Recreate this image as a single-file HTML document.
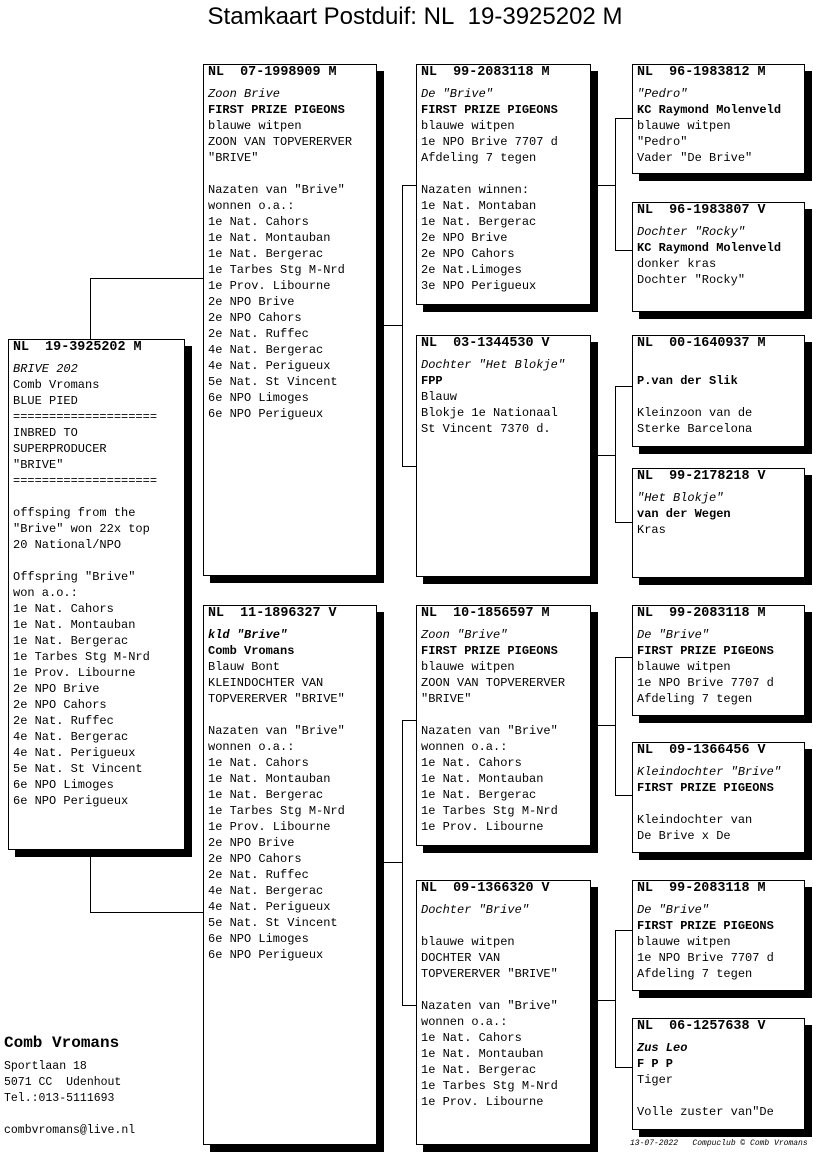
<!DOCTYPE html>
<html><head><meta charset="utf-8"><style>
body{margin:0;width:816px;height:1172px;background:#fff;position:relative;overflow:hidden;font-family:"Liberation Mono",monospace;color:#000}
.b{position:absolute;border:1px solid #000;background:#fff;box-shadow:7px 7px 0 #000;box-sizing:border-box;padding:0 0 0 4px;font-size:12px;line-height:16px;white-space:pre}
.h{font-weight:bold;font-size:13.4px;line-height:16px;margin-bottom:5px}
.i{font-style:italic}.bd{font-weight:bold}
.l{position:absolute;background:#000}
.t{position:absolute;font-family:"Liberation Sans",sans-serif;font-size:24px;left:0;width:830px;text-align:center;top:3px}
</style></head><body>
<div class="t">Stamkaart Postduif: NL&nbsp;&nbsp;19-3925202 M</div>

<!-- connectors -->
<div class="l" style="left:90px;top:278px;width:1px;height:62px"></div>
<div class="l" style="left:90px;top:278px;width:113px;height:1px"></div>
<div class="l" style="left:90px;top:850px;width:1px;height:62px"></div>
<div class="l" style="left:90px;top:912px;width:113px;height:1px"></div>

<div class="l" style="left:384px;top:325px;width:18px;height:1px"></div>
<div class="l" style="left:402px;top:185px;width:1px;height:281px"></div>
<div class="l" style="left:402px;top:185px;width:14px;height:1px"></div>
<div class="l" style="left:402px;top:466px;width:14px;height:1px"></div>

<div class="l" style="left:384px;top:862px;width:18px;height:1px"></div>
<div class="l" style="left:402px;top:720px;width:1px;height:285px"></div>
<div class="l" style="left:402px;top:720px;width:14px;height:1px"></div>
<div class="l" style="left:402px;top:1005px;width:14px;height:1px"></div>

<div class="l" style="left:598px;top:185px;width:17px;height:1px"></div>
<div class="l" style="left:615px;top:118px;width:1px;height:132px"></div>
<div class="l" style="left:615px;top:118px;width:17px;height:1px"></div>
<div class="l" style="left:615px;top:250px;width:17px;height:1px"></div>

<div class="l" style="left:598px;top:455px;width:17px;height:1px"></div>
<div class="l" style="left:615px;top:386px;width:1px;height:136px"></div>
<div class="l" style="left:615px;top:386px;width:17px;height:1px"></div>
<div class="l" style="left:615px;top:522px;width:17px;height:1px"></div>

<div class="l" style="left:598px;top:725px;width:17px;height:1px"></div>
<div class="l" style="left:615px;top:657px;width:1px;height:138px"></div>
<div class="l" style="left:615px;top:657px;width:17px;height:1px"></div>
<div class="l" style="left:615px;top:795px;width:17px;height:1px"></div>

<div class="l" style="left:598px;top:1000px;width:17px;height:1px"></div>
<div class="l" style="left:615px;top:930px;width:1px;height:137px"></div>
<div class="l" style="left:615px;top:930px;width:17px;height:1px"></div>
<div class="l" style="left:615px;top:1067px;width:17px;height:1px"></div>

<!-- root -->
<div class="b" style="left:8px;top:339px;width:177px;height:511px"><div class="h">NL  19-3925202 M</div><div class="i">BRIVE 202</div>Comb Vromans
BLUE PIED
====================
INBRED TO
SUPERPRODUCER
"BRIVE"
====================

offsping from the
"Brive" won 22x top
20 National/NPO

Offspring "Brive"
won a.o.:
1e Nat. Cahors
1e Nat. Montauban
1e Nat. Bergerac
1e Tarbes Stg M-Nrd
1e Prov. Libourne
2e NPO Brive
2e NPO Cahors
2e Nat. Ruffec
4e Nat. Bergerac
4e Nat. Perigueux
5e Nat. St Vincent
6e NPO Limoges
6e NPO Perigueux</div>

<!-- gen1 -->
<div class="b" style="left:203px;top:64px;width:174px;height:512px"><div class="h">NL  07-1998909 M</div><div class="i">Zoon Brive</div><div class="bd">FIRST PRIZE PIGEONS</div>blauwe witpen
ZOON VAN TOPVERERVER
"BRIVE"

Nazaten van "Brive"
wonnen o.a.:
1e Nat. Cahors
1e Nat. Montauban
1e Nat. Bergerac
1e Tarbes Stg M-Nrd
1e Prov. Libourne
2e NPO Brive
2e NPO Cahors
2e Nat. Ruffec
4e Nat. Bergerac
4e Nat. Perigueux
5e Nat. St Vincent
6e NPO Limoges
6e NPO Perigueux</div>

<div class="b" style="left:203px;top:605px;width:174px;height:540px"><div class="h">NL  11-1896327 V</div><div class="i bd">kld "Brive"</div><div class="bd">Comb Vromans</div>Blauw Bont
KLEINDOCHTER VAN
TOPVERERVER "BRIVE"

Nazaten van "Brive"
wonnen o.a.:
1e Nat. Cahors
1e Nat. Montauban
1e Nat. Bergerac
1e Tarbes Stg M-Nrd
1e Prov. Libourne
2e NPO Brive
2e NPO Cahors
2e Nat. Ruffec
4e Nat. Bergerac
4e Nat. Perigueux
5e Nat. St Vincent
6e NPO Limoges
6e NPO Perigueux</div>

<!-- gen2 -->
<div class="b" style="left:416px;top:64px;width:175px;height:241px"><div class="h">NL  99-2083118 M</div><div class="i">De "Brive"</div><div class="bd">FIRST PRIZE PIGEONS</div>blauwe witpen
1e NPO Brive 7707 d
Afdeling 7 tegen

Nazaten winnen:
1e Nat. Montaban
1e Nat. Bergerac
2e NPO Brive
2e NPO Cahors
2e Nat.Limoges
3e NPO Perigueux</div>

<div class="b" style="left:416px;top:335px;width:175px;height:242px"><div class="h">NL  03-1344530 V</div><div class="i">Dochter "Het Blokje"</div><div class="bd">FPP</div>Blauw
Blokje 1e Nationaal
St Vincent 7370 d.</div>

<div class="b" style="left:416px;top:605px;width:175px;height:241px"><div class="h">NL  10-1856597 M</div><div class="i">Zoon "Brive"</div><div class="bd">FIRST PRIZE PIGEONS</div>blauwe witpen
ZOON VAN TOPVERERVER
"BRIVE"

Nazaten van "Brive"
wonnen o.a.:
1e Nat. Cahors
1e Nat. Montauban
1e Nat. Bergerac
1e Tarbes Stg M-Nrd
1e Prov. Libourne</div>

<div class="b" style="left:416px;top:880px;width:175px;height:265px"><div class="h">NL  09-1366320 V</div><div class="i">Dochter "Brive"</div>
blauwe witpen
DOCHTER VAN
TOPVERERVER "BRIVE"

Nazaten van "Brive"
wonnen o.a.:
1e Nat. Cahors
1e Nat. Montauban
1e Nat. Bergerac
1e Tarbes Stg M-Nrd
1e Prov. Libourne</div>

<!-- gen3 -->
<div class="b" style="left:632px;top:64px;width:173px;height:110px"><div class="h">NL  96-1983812 M</div><div class="i">"Pedro"</div><div class="bd">KC Raymond Molenveld</div>blauwe witpen
"Pedro"
Vader "De Brive"</div>

<div class="b" style="left:632px;top:202px;width:173px;height:110px"><div class="h">NL  96-1983807 V</div><div class="i">Dochter "Rocky"</div><div class="bd">KC Raymond Molenveld</div>donker kras
Dochter "Rocky"</div>

<div class="b" style="left:632px;top:335px;width:173px;height:112px"><div class="h">NL  00-1640937 M</div>
<div class="bd">P.van der Slik</div>
Kleinzoon van de
Sterke Barcelona</div>

<div class="b" style="left:632px;top:468px;width:173px;height:110px"><div class="h">NL  99-2178218 V</div><div class="i">"Het Blokje"</div><div class="bd">van der Wegen</div>Kras</div>

<div class="b" style="left:632px;top:605px;width:173px;height:111px"><div class="h">NL  99-2083118 M</div><div class="i">De "Brive"</div><div class="bd">FIRST PRIZE PIGEONS</div>blauwe witpen
1e NPO Brive 7707 d
Afdeling 7 tegen</div>

<div class="b" style="left:632px;top:742px;width:173px;height:111px"><div class="h">NL  09-1366456 V</div><div class="i">Kleindochter "Brive"</div><div class="bd">FIRST PRIZE PIGEONS</div>
Kleindochter van
De Brive x De</div>

<div class="b" style="left:632px;top:880px;width:173px;height:111px"><div class="h">NL  99-2083118 M</div><div class="i">De "Brive"</div><div class="bd">FIRST PRIZE PIGEONS</div>blauwe witpen
1e NPO Brive 7707 d
Afdeling 7 tegen</div>

<div class="b" style="left:632px;top:1018px;width:173px;height:112px"><div class="h">NL  06-1257638 V</div><div class="i bd">Zus Leo</div><div class="bd">F P P</div>Tiger

Volle zuster van"De</div>

<!-- footer -->
<div style="position:absolute;left:4px;top:1034px;font-size:16px;font-weight:bold">Comb Vromans</div>
<div style="position:absolute;left:4px;top:1059px;font-size:11.5px;line-height:16px;white-space:pre">Sportlaan 18
5071 CC  Udenhout
Tel.:013-5111693

combvromans@live.nl</div>
<div style="position:absolute;left:630px;top:1139px;font-size:8px;font-style:italic;white-space:pre">13-07-2022   Compuclub © Comb Vromans</div>
</body></html>
